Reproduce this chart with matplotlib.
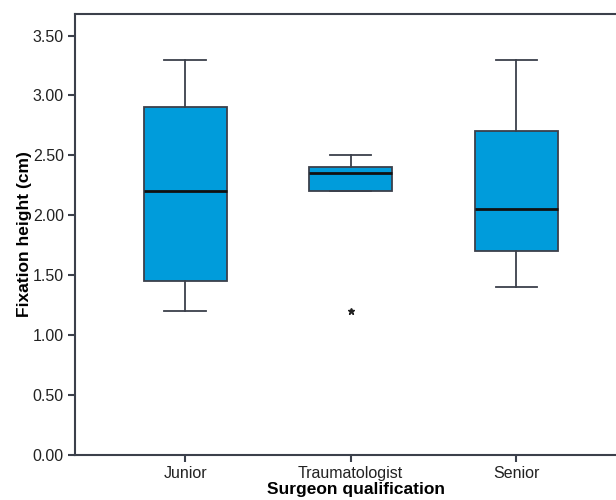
import numpy as np
import matplotlib.pyplot as plt

plt.rcParams['font.family'] = ['Liberation Sans', 'DejaVu Sans']

# five-number summaries (cm)
groups = ["Junior", "Traumatologist", "Senior"]
whis_lo = [1.20, 2.20, 1.40]
q1 = [1.45, 2.20, 1.70]
median = [2.20, 2.35, 2.05]
q3 = [2.90, 2.40, 2.70]
whis_hi = [3.30, 2.50, 3.30]
outliers = [[], [1.20], []]

stats = []
for i in range(len(groups)):
    stats.append(dict(label=groups[i], whislo=whis_lo[i], q1=q1[i], med=median[i],
                      q3=q3[i], whishi=whis_hi[i], fliers=outliers[i]))

edge = "#3b404b"
fig = plt.figure(figsize=(6.16, 5.0), dpi=100)
ax = fig.add_axes([0.1218, 0.09, 0.895, 0.882])

ax.bxp(stats, positions=[1, 2, 3], widths=0.5, patch_artist=True,
       boxprops=dict(facecolor="#009cdb", edgecolor=edge, linewidth=1.3),
       medianprops=dict(color="#111111", linewidth=2.0),
       whiskerprops=dict(color=edge, linewidth=1.3),
       capprops=dict(color=edge, linewidth=1.3),
       capwidths=0.25,
       flierprops=dict(marker="*", markersize=5, markerfacecolor="#222222",
                       markeredgecolor="#222222"))

ax.set_xlim(0.335, 3.665)
ax.set_ylim(0, 3.68)
ax.set_yticks(np.arange(0, 3.51, 0.5))
ax.set_yticklabels([f"{v:.2f}" for v in np.arange(0, 3.51, 0.5)])

for s in ax.spines.values():
    s.set_color(edge)
    s.set_linewidth(1.5)
ax.tick_params(colors=edge, width=1.5, length=5, pad=3, labelsize=11.5, labelcolor="#222222")

ax.set_ylabel("Fixation height (cm)", fontsize=12.5, fontweight="bold")
ax.yaxis.set_label_coords(-0.078, 0.5)
ax.set_xlabel("Surgeon qualification", fontsize=12.5, fontweight="bold")
ax.xaxis.set_label_coords(0.51, -0.062)

fig.savefig("out.png", dpi=100)
